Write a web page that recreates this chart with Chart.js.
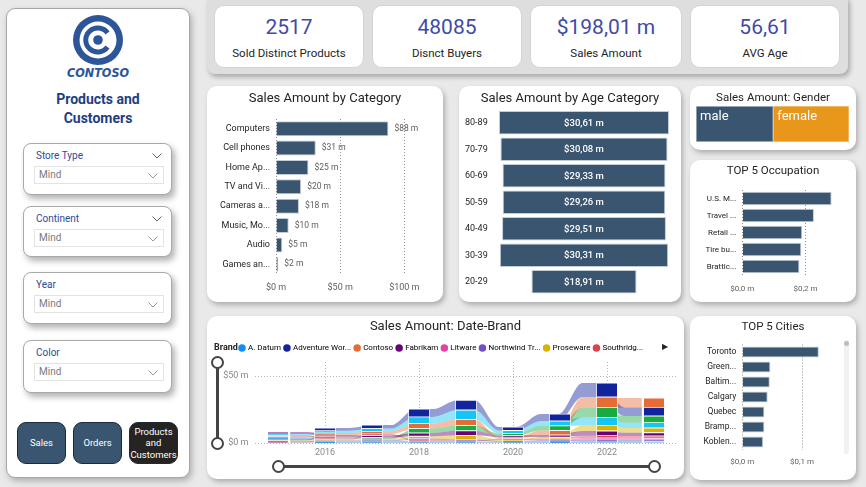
<!DOCTYPE html>
<html>
<head>
<meta charset="utf-8">
<title>Products and Customers</title>
<script src="https://cdn.jsdelivr.net/npm/chart.js@4.4.1/dist/chart.umd.min.js"></script>
<style>
*{box-sizing:border-box}
html,body{margin:0;padding:0}
body{width:866px;height:487px;background:#E9E9E9;position:relative;overflow:hidden;font-family:Roboto,"Open Sans",sans-serif;color:#252423}
.abs{position:absolute}
.card{position:absolute;background:#fff;border-radius:10px;box-shadow:2px 3px 5px rgba(0,0,0,.25)}
.card canvas{position:absolute;left:0;top:0}
.ttl{position:absolute;left:0;right:0;text-align:center;font-size:13px;line-height:16px;color:#252423;white-space:nowrap;z-index:2}
.ttl.sm{font-size:11.5px}
.kpi{position:absolute;top:5px;height:63px;background:#fff;border-radius:10px;border:1px solid #d4d4d4}
.kv{position:absolute;top:8px;left:0;right:0;text-align:center;font-size:21px;line-height:26px;color:#3F4BA8}
.kl{position:absolute;top:39px;left:0;right:0;text-align:center;font-size:11.5px;line-height:16px;color:#252423}
.slicer{position:absolute;left:23px;width:149px;background:#fff;border:1px solid #A9A9A9;border-radius:8px;box-shadow:3px 4px 6px rgba(0,0,0,.3)}
.sl-t{position:absolute;left:12px;top:5px;font-size:10px;line-height:14px;color:#2C4B94}
.sl-b{position:absolute;left:10px;top:22px;width:130px;height:18px;border:1px solid #E3E3E3;font-size:10px;line-height:16px;color:#7A7A7A;padding-left:4px}
.chev{position:absolute}
.btn{position:absolute;top:422px;height:42px;width:49px;border-radius:9px;border:1px solid #1d2a37;color:#fff;font-size:9.5px;display:flex;align-items:center;justify-content:center;text-align:center;line-height:11.5px;background:#3A5570}
</style>
</head>
<body>

<!-- left panel -->
<div class="abs" style="left:6px;top:8px;width:184px;height:470px;background:#fff;border:1px solid #A6A6A6;border-radius:9px;box-shadow:2px 3px 6px rgba(0,0,0,.25)"></div>
<svg class="abs" style="left:72px;top:14px" width="52" height="52" viewBox="0 0 52 52">
  <circle cx="26" cy="26" r="25" fill="#2D5597"/>
  <circle cx="26" cy="26" r="18.5" fill="#fff"/>
  <path d="M 35.5 19 A 12 12 0 1 0 35.5 33" fill="none" stroke="#2D5597" stroke-width="5"/>
  <circle cx="26" cy="26" r="4.8" fill="#2D5597"/>
</svg>
<div class="abs" style="left:48px;width:100px;top:65px;text-align:center;font:italic bold 12.5px 'DejaVu Sans Condensed',sans-serif;color:#2D5597;line-height:16px">CONTOSO</div>
<div class="abs" style="left:8px;width:180px;top:90px;text-align:center;font-weight:bold;font-size:14px;line-height:19px;color:#1E3E83">Products and<br>Customers</div>

<div class="slicer" style="top:143px;height:52px"><div class="sl-t">Store Type</div>
  <svg class="chev" style="left:128px;top:9px" width="10" height="6"><polyline points="0.5,0.5 5,5 9.5,0.5" fill="none" stroke="#666" stroke-width="1"/></svg>
  <div class="sl-b">Mind<svg class="chev" style="left:113px;top:6px" width="10" height="6"><polyline points="0.5,0.5 5,5 9.5,0.5" fill="none" stroke="#999" stroke-width="1"/></svg></div></div>
<div class="slicer" style="top:206px;height:51px"><div class="sl-t">Continent</div>
  <svg class="chev" style="left:128px;top:9px" width="10" height="6"><polyline points="0.5,0.5 5,5 9.5,0.5" fill="none" stroke="#666" stroke-width="1"/></svg>
  <div class="sl-b">Mind<svg class="chev" style="left:113px;top:6px" width="10" height="6"><polyline points="0.5,0.5 5,5 9.5,0.5" fill="none" stroke="#999" stroke-width="1"/></svg></div></div>
<div class="slicer" style="top:272px;height:52px"><div class="sl-t">Year</div>
  <div class="sl-b">Mind<svg class="chev" style="left:113px;top:6px" width="10" height="6"><polyline points="0.5,0.5 5,5 9.5,0.5" fill="none" stroke="#999" stroke-width="1"/></svg></div></div>
<div class="slicer" style="top:340px;height:53px"><div class="sl-t">Color</div>
  <div class="sl-b">Mind<svg class="chev" style="left:113px;top:6px" width="10" height="6"><polyline points="0.5,0.5 5,5 9.5,0.5" fill="none" stroke="#999" stroke-width="1"/></svg></div></div>

<div class="btn" style="left:17px">Sales</div>
<div class="btn" style="left:73px">Orders</div>
<div class="btn" style="left:129px;background:#252423">Products<br>and<br>Customers</div>

<!-- KPI row -->
<div class="abs" style="left:207px;top:-6px;width:641px;height:80px;background:#DEDEDE;border-radius:8px;box-shadow:2px 3px 5px rgba(0,0,0,.28)"></div>
<div class="kpi" style="left:214px;width:150px"><div class="kv">2517</div><div class="kl">Sold Distinct Products</div></div>
<div class="kpi" style="left:372px;width:150px"><div class="kv">48085</div><div class="kl">Disnct Buyers</div></div>
<div class="kpi" style="left:530px;width:152px"><div class="kv">$198,01 m</div><div class="kl">Sales Amount</div></div>
<div class="kpi" style="left:690px;width:150px"><div class="kv">56,61</div><div class="kl">AVG Age</div></div>

<!-- chart cards -->
<div class="card" style="left:207px;top:86px;width:236px;height:216px"><div class="ttl" style="top:4px">Sales Amount by Category</div><canvas id="cCat" width="236" height="216"></canvas></div>
<div class="card" style="left:459px;top:86px;width:222px;height:216px"><div class="ttl" style="top:4px">Sales Amount by Age Category</div><canvas id="cAge" width="222" height="216"></canvas></div>
<div class="card" style="left:690px;top:86px;width:166px;height:64px"><div class="ttl sm" style="top:3px">Sales Amount: Gender</div><canvas id="cGen" width="166" height="64"></canvas></div>
<div class="card" style="left:690px;top:160px;width:166px;height:142px"><div class="ttl sm" style="top:2px">TOP 5 Occupation</div><canvas id="cOcc" width="166" height="142"></canvas></div>
<div class="card" style="left:207px;top:316px;width:477px;height:163px"><div class="ttl" style="top:2px">Sales Amount: Date-Brand</div><canvas id="cBrand" width="477" height="163"></canvas>
  <div class="abs" style="left:455px;top:26px;font-size:8px;line-height:10px;color:#252423">&#9654;</div>
  <div class="abs" style="left:9px;top:48px;width:3px;height:79px;background:#444"></div>
  <div class="abs" style="left:4px;top:40px;width:13px;height:13px;border-radius:50%;border:2px solid #444;background:#fff"></div>
  <div class="abs" style="left:4px;top:121px;width:13px;height:13px;border-radius:50%;border:2px solid #444;background:#fff"></div>
  <div class="abs" style="left:72px;top:149px;width:375px;height:3px;background:#444"></div>
  <div class="abs" style="left:65px;top:144px;width:13px;height:13px;border-radius:50%;border:2px solid #444;background:#fff"></div>
  <div class="abs" style="left:441px;top:144px;width:13px;height:13px;border-radius:50%;border:2px solid #444;background:#fff"></div>
</div>
<div class="card" style="left:690px;top:316px;width:166px;height:164px"><div class="ttl sm" style="top:2px">TOP 5 Cities</div><canvas id="cCity" width="166" height="164"></canvas>
  <div class="abs" style="left:154px;top:24px;width:5px;height:114px;background:#F1F1F1;border-radius:2px"></div>
  <div class="abs" style="left:154px;top:25px;width:5px;height:5px;background:#BDBDBD;border-radius:50%"></div>
</div>

<script>
// ---------------- data ----------------
const categoryLabels = ['Computers', 'Cell phones', 'Home Ap...', 'TV and Vi...', 'Cameras a...', 'Music, Mo...', 'Audio', 'Games an...'];
const categorySales = [87.6, 31.0, 25.3, 19.6, 17.9, 9.9, 4.9, 1.8];

const ageLabels = ['80-89', '70-79', '60-69', '50-59', '40-49', '30-39', '20-29'];
const ageSales = [30.61, 30.08, 29.33, 29.26, 29.51, 30.31, 18.91];

const genderLabels = ['male', 'female'];
const genderSales = [100.0, 98.0];

const occupationLabels = ['U.S. M...', 'Travel ...', 'Retail ...', 'Tire bu...', 'Brattic...'];
const occupationSales = [0.283, 0.227, 0.190, 0.187, 0.181];

const cityLabels = ['Toronto', 'Green...', 'Baltim...', 'Calgary', 'Quebec', 'Bramp...', 'Koblen...'];
const citySales = [0.128, 0.047, 0.046, 0.0425, 0.037, 0.037, 0.035];

const years = ['2015', '2016', '2017', '2018', '2019', '2020', '2021', '2022', '2023'];
const brandNames = ['A. Datum', 'Adventure Works', 'Contoso', 'Fabrikam', 'Litware', 'Northwind Traders', 'Proseware', 'Southridge Video', 'Tailspin Toys', 'The Phone Company', 'Wide World Importers'];
const brandLegendLabels = ['A. Datum', 'Adventure Wor...', 'Contoso', 'Fabrikam', 'Litware', 'Northwind Tr...', 'Proseware', 'Southridg...'];
const aDatum            = [0.9, 0.5, 0.5, 0.6, 0.4, 0.3, 0.5, 0.8, 0.9];
const adventureWorks    = [0.8, 2.0, 2.6, 5.9, 7.4, 2.7, 5.1, 10.4, 6.4];
const contoso           = [1.0, 1.5, 1.9, 3.7, 4.5, 1.2, 3.4, 8.0, 7.0];
const fabrikam          = [1.4, 1.3, 1.3, 2.4, 3.4, 1.2, 1.7, 3.5, 2.5];
const litware           = [0.4, 0.5, 0.5, 0.6, 0.5, 0.4, 0.6, 1.4, 1.3];
const northwindTraders  = [0.5, 0.6, 0.7, 1.0, 1.0, 0.6, 0.8, 1.1, 1.1];
const proseware         = [0.5, 0.8, 1.0, 1.7, 3.0, 0.8, 1.2, 4.0, 3.5];
const southridgeVideo   = [1.0, 0.9, 1.3, 0.8, 0.6, 0.9, 1.0, 1.8, 1.6];
const tailspinToys      = [0.2, 0.2, 0.3, 0.4, 0.2, 0.2, 0.2, 0.4, 0.3];
const thePhoneCompany   = [0.4, 1.1, 1.2, 3.3, 4.0, 1.5, 3.4, 7.4, 5.0];
const wideWorldImporters= [1.1, 1.8, 2.1, 5.0, 7.0, 2.2, 3.7, 6.0, 4.0];
const brandSeries = [aDatum, adventureWorks, contoso, fabrikam, litware, northwindTraders, proseware, southridgeVideo, tailspinToys, thePhoneCompany, wideWorldImporters];

// ---------------- styles ----------------
const BAR = '#3A5570';
const BAR_EDGE = '#C3CDD8';
const GRID = '#8E8E8E';
const brandColors = ['#118DFF', '#12239E', '#E66C37', '#6B007B', '#E044A7', '#744EC2', '#D9B300', '#D64550', '#197278', '#1AAB40', '#15C6F4'];

Chart.defaults.font.family = 'Roboto, "Open Sans", sans-serif';
Chart.defaults.animation = false;
Chart.defaults.responsive = false;
Chart.defaults.devicePixelRatio = 1;
Chart.defaults.plugins.legend.display = false;
Chart.defaults.plugins.tooltip.enabled = false;
Chart.defaults.events = [];

function valueLabels(cfg) {
  return {
    id: 'valueLabels',
    afterDatasetsDraw(chart) {
      const ctx = chart.ctx;
      chart.data.datasets.forEach((ds, di) => {
        const meta = chart.getDatasetMeta(di);
        if (meta.type !== 'bar') return;
        meta.data.forEach((el, i) => {
          const txt = cfg.format(i, di);
          ctx.save();
          ctx.font = cfg.font;
          ctx.fillStyle = cfg.color;
          if (cfg.mode === 'end') {
            ctx.textAlign = 'left'; ctx.textBaseline = 'middle';
            ctx.fillText(txt, el.x + cfg.offset, el.y);
          } else if (cfg.mode === 'center') {
            ctx.textAlign = 'center'; ctx.textBaseline = 'middle';
            ctx.fillText(txt, (el.x + el.base) / 2, el.y + 0.5);
          } else {
            ctx.textAlign = 'left'; ctx.textBaseline = 'top';
            ctx.fillText(txt, Math.min(el.x, el.base) + cfg.offset, el.y - el.height / 2 + cfg.offsetY);
          }
          ctx.restore();
        });
      });
    }
  };
}
const fmtComma = (v, d) => v.toFixed(d).replace('.', ',');
const onlyMultiples = step => s => { s.ticks = s.ticks.filter(t => Math.abs(t.value / step - Math.round(t.value / step)) < 1e-6); };

// ---------------- Sales by Category ----------------
new Chart(document.getElementById('cCat'), {
  type: 'bar',
  data: { labels: categoryLabels, datasets: [{ data: categorySales, backgroundColor: BAR, borderColor: BAR_EDGE, borderWidth: 1, barPercentage: 0.78, categoryPercentage: 1 }] },
  options: {
    indexAxis: 'y',
    layout: { padding: { top: 33, right: 13, bottom: 0, left: 0 } },
    scales: {
      x: { min: 0, max: 120, afterBuildTicks: onlyMultiples(50), afterFit: s => { s.height = 28; },
           ticks: { stepSize: 50, includeBounds: false, padding: 8, color: '#605E5C', font: { size: 9 }, maxRotation: 0, callback: v => '$' + v + ' m' },
           grid: { drawTicks: false, color: GRID }, border: { display: false, dash: [1, 2] } },
      y: { afterFit: s => { s.width = 69; }, grid: { display: false, drawTicks: false }, border: { display: false },
           ticks: { color: '#252423', font: { size: 9 }, padding: 6 } }
    }
  },
  plugins: [valueLabels({ mode: 'end', offset: 6, font: '8.5px Roboto', color: '#605E5C', format: i => '$' + Math.round(categorySales[i]) + ' m' })]
});

// ---------------- Sales by Age (funnel) ----------------
const ageMax = Math.max(...ageSales);
new Chart(document.getElementById('cAge'), {
  type: 'bar',
  data: { labels: ageLabels, datasets: [{ data: ageSales.map(v => [-v / 2, v / 2]), backgroundColor: BAR, borderColor: BAR_EDGE, borderWidth: 1, borderSkipped: false, barPercentage: 0.88, categoryPercentage: 1 }] },
  options: {
    indexAxis: 'y',
    layout: { padding: { top: 23.5, right: 12, bottom: 7, left: 6 } },
    scales: {
      x: { display: false, min: -ageMax / 2, max: ageMax / 2 },
      y: { afterFit: s => { s.width = 34; }, grid: { display: false, drawTicks: false }, border: { display: false },
           ticks: { crossAlign: 'far', color: '#252423', font: { size: 9 }, padding: 0 } }
    }
  },
  plugins: [valueLabels({ mode: 'center', font: '500 9.5px Roboto', color: '#FFFFFF', format: i => '$' + fmtComma(ageSales[i], 2) + ' m' })]
});

// ---------------- Gender ----------------
const genderTotal = genderSales.reduce((a, b) => a + b, 0);
new Chart(document.getElementById('cGen'), {
  type: 'bar',
  data: { labels: ['Sales Amount'], datasets: [
    { label: genderLabels[0], data: [genderSales[0]], backgroundColor: BAR, borderColor: '#B9C4D0', borderWidth: 1, borderSkipped: false, barPercentage: 1, categoryPercentage: 1 },
    { label: genderLabels[1], data: [genderSales[1]], backgroundColor: '#E8971A', borderColor: '#F3C580', borderWidth: 1, borderSkipped: false, barPercentage: 1, categoryPercentage: 1 }
  ] },
  options: {
    indexAxis: 'y',
    layout: { padding: { top: 20, right: 7, bottom: 8, left: 6 } },
    scales: { x: { display: false, stacked: true, min: 0, max: genderTotal }, y: { display: false, stacked: true } }
  },
  plugins: [valueLabels({ mode: 'topleft', offset: 4, offsetY: 4, font: '13px Roboto', color: '#FFFFFF', format: (i, di) => genderLabels[di] })]
});

// ---------------- Top 5 Occupation ----------------
new Chart(document.getElementById('cOcc'), {
  type: 'bar',
  data: { labels: occupationLabels, datasets: [{ data: occupationSales, backgroundColor: BAR, borderColor: BAR_EDGE, borderWidth: 1, barPercentage: 0.78, categoryPercentage: 1 }] },
  options: {
    indexAxis: 'y',
    layout: { padding: { top: 30, right: 19, bottom: 0, left: 0 } },
    scales: {
      x: { min: 0, max: 0.3, afterBuildTicks: onlyMultiples(0.2), afterFit: s => { s.height = 27; },
           ticks: { stepSize: 0.2, includeBounds: false, padding: 9, color: '#605E5C', font: { size: 8 }, maxRotation: 0, callback: v => '$' + fmtComma(v, 1) + ' m' },
           grid: { drawTicks: false, color: GRID }, border: { display: false, dash: [1, 2] } },
      y: { afterFit: s => { s.width = 52.3; }, grid: { display: false, drawTicks: false }, border: { display: false },
           ticks: { color: '#252423', font: { size: 8 }, padding: 6 } }
    }
  }
});

// ---------------- Top 5 Cities ----------------
new Chart(document.getElementById('cCity'), {
  type: 'bar',
  data: { labels: cityLabels, datasets: [{ data: citySales, backgroundColor: BAR, borderColor: BAR_EDGE, borderWidth: 1, barPercentage: 0.72, categoryPercentage: 1 }] },
  options: {
    indexAxis: 'y',
    layout: { padding: { top: 28.5, right: 30, bottom: 0, left: 0 } },
    scales: {
      x: { min: 0, max: 0.14, afterBuildTicks: onlyMultiples(0.1), afterFit: s => { s.height = 30.5; },
           ticks: { stepSize: 0.1, includeBounds: false, padding: 8, color: '#605E5C', font: { size: 8 }, maxRotation: 0, callback: v => '$' + fmtComma(v, 1) + ' m' },
           grid: { drawTicks: false, color: GRID }, border: { display: false, dash: [1, 2] } },
      y: { afterFit: s => { s.width = 52.3; }, grid: { display: false, drawTicks: false }, border: { display: false },
           ticks: { color: '#252423', font: { size: 8.5 }, padding: 6 } }
    }
  }
});

// ---------------- Date-Brand ribbon ----------------
const lo = brandSeries.map(() => []);
const hi = brandSeries.map(() => []);
years.forEach((y, j) => {
  const order = brandSeries.map((s, i) => i).sort((a, b) => brandSeries[a][j] - brandSeries[b][j]);
  let acc = 0;
  order.forEach(i => { lo[i][j] = acc; acc += brandSeries[i][j]; hi[i][j] = acc; });
});
const HALF = 0.21;
const edgePoints = arr => arr.flatMap((v, j) => [{ x: j - HALF, y: v }, { x: j + HALF, y: v }]);

const brandDatasets = [];
brandSeries.forEach((s, i) => {
  brandDatasets.push({ type: 'bar', label: brandNames[i], data: years.map((_, j) => [lo[i][j], hi[i][j]]),
    backgroundColor: brandColors[i], borderColor: '#FFFFFF', borderWidth: 0.8, borderSkipped: false,
    grouped: false, barThickness: 21, xAxisID: 'x', order: 1 });
});
brandSeries.forEach((s, i) => {
  brandDatasets.push({ type: 'line', label: brandNames[i] + ' low', data: edgePoints(lo[i]), xAxisID: 'xl',
    borderWidth: 0, borderColor: 'rgba(0,0,0,0)', pointRadius: 0, fill: false, cubicInterpolationMode: 'monotone', order: 2 });
  brandDatasets.push({ type: 'line', label: brandNames[i] + ' high', data: edgePoints(hi[i]), xAxisID: 'xl',
    borderWidth: 0, borderColor: 'rgba(0,0,0,0)', pointRadius: 0, fill: '-1', backgroundColor: brandColors[i] + '73',
    cubicInterpolationMode: 'monotone', order: 2 });
});

const brandLegendPlugin = {
  id: 'brandLegendShift',
  afterLayout(chart) { chart.legend.left += 29; chart.legend.right += 29; },
  afterDraw(chart) {
    const hb = chart.legend.legendHitBoxes && chart.legend.legendHitBoxes[0];
    const y = hb ? hb.top + hb.height / 2 : 32;
    const ctx = chart.ctx;
    ctx.save();
    ctx.font = 'bold 9px Roboto';
    ctx.fillStyle = '#252423';
    ctx.textBaseline = 'middle';
    ctx.textAlign = 'left';
    ctx.fillText('Brand', 7, y);
    ctx.restore();
  }
};

new Chart(document.getElementById('cBrand'), {
  type: 'bar',
  data: { labels: years, datasets: brandDatasets },
  options: {
    layout: { padding: { top: 24, right: 6.5, bottom: 0, left: 0 } },
    plugins: {
      legend: { display: true, position: 'top', align: 'start',
        labels: { usePointStyle: true, pointStyle: 'circle', boxWidth: 4, boxHeight: 5.3, padding: 4, color: '#252423', font: { size: 8 },
          generateLabels: () => brandLegendLabels.map((t, i) => ({ text: t, fillStyle: brandColors[i], strokeStyle: brandColors[i], lineWidth: 0, pointStyle: 'circle', hidden: false, datasetIndex: i })) } }
    },
    scales: {
      x: { type: 'category', offset: true, afterFit: s => { s.height = 36; },
           grid: { offset: false, drawTicks: false, color: c => (Number(years[c.index]) % 2 === 0 ? '#B5B5B5' : 'rgba(0,0,0,0)') },
           border: { display: false, dash: [1, 2] },
           ticks: { padding: 4, color: '#8A8886', font: { size: 9 }, maxRotation: 0, autoSkip: false,
                    callback: function (v) { const l = this.getLabelForValue(v); return Number(l) % 2 === 0 ? l : ''; } } },
      xl: { type: 'linear', display: false, min: -0.5, max: years.length - 0.5 },
      y: { min: 0, max: 60.5, afterBuildTicks: onlyMultiples(50), afterFit: s => { s.width = 47.5; },
           ticks: { stepSize: 50, includeBounds: false, padding: 6, color: '#8A8886', font: { size: 9 }, callback: v => '$' + v + ' m' },
           grid: { drawTicks: false, color: '#B5B5B5' }, border: { display: false, dash: [1, 2] } }
    }
  },
  plugins: [brandLegendPlugin]
});
</script>
</body>
</html>
